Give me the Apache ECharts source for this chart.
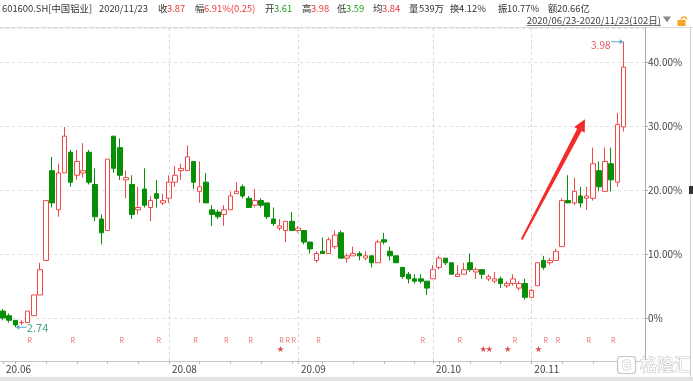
<!DOCTYPE html>
<html><head><meta charset="utf-8">
<script src="https://cdn.jsdelivr.net/npm/echarts@6/dist/echarts.min.js"></script>
<style>html,body{margin:0;padding:0;background:#fff;overflow:hidden}#c{width:693px;height:381px}</style>
</head><body><div id="c"></div>
<script>
// ---------------- DATA ----------------
const dates = [
'2020-06-23','2020-06-24','2020-06-29','2020-06-30',
'2020-07-01','2020-07-02','2020-07-03','2020-07-06','2020-07-07','2020-07-08','2020-07-09','2020-07-10','2020-07-13','2020-07-14','2020-07-15','2020-07-16','2020-07-17','2020-07-20','2020-07-21','2020-07-22','2020-07-23','2020-07-24','2020-07-27','2020-07-28','2020-07-29','2020-07-30','2020-07-31',
'2020-08-03','2020-08-04','2020-08-05','2020-08-06','2020-08-07','2020-08-10','2020-08-11','2020-08-12','2020-08-13','2020-08-14','2020-08-17','2020-08-18','2020-08-19','2020-08-20','2020-08-21','2020-08-24','2020-08-25','2020-08-26','2020-08-27','2020-08-28','2020-08-31',
'2020-09-01','2020-09-02','2020-09-03','2020-09-04','2020-09-07','2020-09-08','2020-09-09','2020-09-10','2020-09-11','2020-09-14','2020-09-15','2020-09-16','2020-09-17','2020-09-18','2020-09-21','2020-09-22','2020-09-23','2020-09-24','2020-09-25','2020-09-28','2020-09-29','2020-09-30',
'2020-10-09','2020-10-12','2020-10-13','2020-10-14','2020-10-15','2020-10-16','2020-10-19','2020-10-20','2020-10-21','2020-10-22','2020-10-23','2020-10-26','2020-10-27','2020-10-28','2020-10-29','2020-10-30',
'2020-11-02','2020-11-03','2020-11-04','2020-11-05','2020-11-06','2020-11-09','2020-11-10','2020-11-11','2020-11-12','2020-11-13','2020-11-16','2020-11-17','2020-11-18','2020-11-19','2020-11-20','2020-11-23'
];
const openP = [2.81,2.79,2.77,2.76,2.76,2.79,2.88,3.03,3.42,3.25,3.41,3.50,3.40,3.41,3.50,3.36,3.21,3.16,3.57,3.52,
3.38,3.36,3.25,3.34,3.26,3.32,3.28,3.30,3.37,3.42,3.42,3.46,3.33,3.37,3.25,3.24,3.23,3.25,3.32,3.35,
3.30,3.27,3.29,3.28,3.21,3.17,3.16,3.20,3.16,3.16,3.11,3.03,3.07,3.06,3.09,3.15,3.04,3.05,3.06,3.04,
3.05,3.02,3.12,3.07,3.05,3.00,2.97,2.95,2.95,2.94,2.95,3.00,3.04,3.02,2.96,2.97,3.02,2.98,2.99,2.95,
2.94,2.95,2.92,2.93,2.91,2.93,2.87,2.92,3.03,3.02,3.03,3.09,3.29,3.28,3.31,3.30,3.30,3.42,3.33,3.45,
3.37,3.61];
const closeP = [2.78,2.77,2.75,2.76,2.81,2.88,2.99,3.29,3.28,3.41,3.57,3.37,3.46,3.42,3.37,3.22,3.15,3.47,3.43,3.40,
3.39,3.23,3.26,3.27,3.29,3.30,3.29,3.37,3.40,3.43,3.48,3.37,3.35,3.28,3.23,3.22,3.25,3.31,3.33,3.31,
3.26,3.29,3.27,3.22,3.19,3.18,3.20,3.16,3.17,3.11,3.08,3.06,3.06,3.12,3.14,3.04,3.05,3.06,3.05,3.05,
3.02,3.11,3.11,3.05,3.02,2.96,2.95,2.94,2.94,2.91,2.99,3.04,3.02,2.97,2.97,2.99,2.99,2.99,2.97,2.96,
2.95,2.93,2.93,2.95,2.93,2.87,2.90,3.02,3.00,3.03,3.07,3.29,3.28,3.33,3.28,3.31,3.45,3.35,3.46,3.38,
3.62,3.87];
const lowP = [2.77,2.76,2.74,2.75,2.76,2.79,2.88,3.03,3.26,3.22,3.41,3.35,3.38,3.39,3.36,3.20,3.10,3.16,3.41,3.38,
3.30,3.21,3.23,3.26,3.20,3.26,3.27,3.28,3.35,3.38,3.42,3.34,3.28,3.28,3.18,3.21,3.18,3.25,3.32,3.30,
3.26,3.26,3.26,3.21,3.18,3.16,3.11,3.16,3.15,3.10,3.06,3.02,3.06,3.06,3.08,3.04,3.02,3.05,3.03,3.03,
3.00,3.02,3.10,3.03,3.02,2.95,2.93,2.93,2.93,2.88,2.95,2.99,3.01,2.97,2.96,2.97,2.98,2.95,2.95,2.94,
2.93,2.91,2.91,2.92,2.90,2.86,2.87,2.92,2.99,3.01,3.03,3.09,3.28,3.27,3.26,3.25,3.29,3.33,3.33,3.33,
3.35,3.59];
const highP = [2.82,2.80,2.77,2.77,2.81,2.88,3.02,3.29,3.48,3.45,3.61,3.51,3.51,3.54,3.51,3.43,3.23,3.47,3.57,3.56,
3.42,3.40,3.35,3.43,3.31,3.38,3.32,3.40,3.44,3.45,3.53,3.46,3.46,3.41,3.27,3.25,3.27,3.33,3.37,3.36,
3.31,3.34,3.30,3.28,3.26,3.21,3.20,3.24,3.18,3.16,3.11,3.07,3.13,3.13,3.16,3.16,3.06,3.09,3.07,3.07,
3.05,3.12,3.15,3.09,3.05,3.00,2.98,2.97,2.97,2.94,3.01,3.05,3.04,3.02,3.01,3.02,3.06,3.00,2.99,2.97,
2.98,2.96,2.94,2.97,2.94,2.95,2.92,3.02,3.05,3.04,3.08,3.30,3.40,3.39,3.35,3.35,3.52,3.46,3.52,3.52,
3.67,3.98];
const basePrice = 2.78;           // 0% reference (close of first day)
const monthLabelDates = ['2020-06-23','2020-08-03','2020-09-01','2020-10-09','2020-11-02'];
const monthGridDates = ['2020-08-03','2020-09-01','2020-10-09','2020-11-02'];
const rDates = ['2020-07-01','2020-07-10','2020-07-22','2020-07-30','2020-08-07','2020-08-14','2020-08-20','2020-08-27','2020-08-28','2020-08-31','2020-09-04','2020-09-29','2020-10-15','2020-10-28','2020-11-04','2020-11-06','2020-11-13','2020-11-19'];
const starDates = ['2020-08-27','2020-10-21','2020-10-22','2020-10-27','2020-11-03'];
const headerItems = [
  ['601600.SH[中国铝业]','n'],['2020/11/23','n'],
  ['收','n'],['3.87','u'],['幅','n'],['6.91%(0.25)','u'],['开','n'],['3.61','d'],
  ['高','n'],['3.98','u'],['低','n'],['3.59','d'],['均','n'],['3.84','u'],
  ['量','n'],['539万','n'],['换','n'],['4.12%','n'],['振','n'],['10.77%','n'],['额','n'],['20.66亿','n']
];
const rangeText = '2020/06/23-2020/11/23(102日)';
const watermarkText = '格隆汇';

// ---------------- LAYOUT / STYLE ----------------
const FONT = "'Noto Sans CJK SC','Noto Sans',sans-serif";
const UP = '#f24848', DOWN = '#078f07';
const headerX = [2,99,158,167,195,204,265,274,302,311,337,346,373,382,409,419,450,459,498,507,548,557];
const headerColor = {n:'#333', u:'#e83838', d:'#1f9a1f'};

const pct = p => (p / basePrice - 1) * 100;
const candleData = dates.map((d, i) => [pct(openP[i]), pct(closeP[i]), pct(lowP[i]), pct(highP[i])]);
const isMonday = d => !!d && new Date(d + 'T00:00:00Z').getUTCDay() === 1;

const ctx = document.createElement('canvas').getContext('2d');
ctx.font = '9.5px ' + FONT;
const rangeW = ctx.measureText(rangeText).width;
const rangeRight = 661;

const graphics = [];
headerItems.forEach((h, i) => {
  graphics.push({type:'text', x: headerX[i], y: 8, silent:true,
    style:{text:h[0], fill: headerColor[h[1]], font:'9.4px ' + FONT, textVerticalAlign:'middle', verticalAlign:'middle'}});
});
graphics.push({type:'line', silent:true, shape:{x1:0,y1:27.5,x2:693,y2:27.5}, style:{stroke:'#dcdcdc', lineWidth:1}});
graphics.push({type:'text', x: rangeRight - rangeW, y: 20, silent:true,
  style:{text:rangeText, fill:'#444', font:'9.5px ' + FONT, textVerticalAlign:'middle', verticalAlign:'middle'}});
graphics.push({type:'line', silent:true, shape:{x1:rangeRight - rangeW, y1:25.5, x2:rangeRight, y2:25.5}, style:{stroke:'#555', lineWidth:0.8}});
graphics.push({type:'polygon', silent:true, shape:{points:[[663,16.5],[671,16.5],[667,22.5]]}, style:{fill:'#8a8a8a'}});
graphics.push({type:'rect', silent:true, z:50, shape:{x:677.5,y:20,width:8,height:6}, style:{fill:'#f5a623'}});
graphics.push({type:'arc', silent:true, z:50, shape:{cx:684,cy:19.5,r:2.6,startAngle:Math.PI,endAngle:2*Math.PI,clockwise:true}, style:{stroke:'#f5a623', lineWidth:1.4, fill:'none'}});
// right frame & bottom bar
graphics.push({type:'line', silent:true, shape:{x1:690.5,y1:28,x2:690.5,y2:377}, style:{stroke:'#cfcfcf', lineWidth:1}});
graphics.push({type:'rect', silent:true, shape:{x:689,y:186,width:4,height:8}, style:{fill:'#333'}});
graphics.push({type:'rect', silent:true, shape:{x:0,y:377,width:693,height:4}, style:{fill:'#e3e3e3'}});
// red annotation arrow
graphics.push({type:'polygon', silent:true, z:100,
  shape:{points:[[520.9,239.1],[577.2,128.7],[574.1,127.1],[585,119.3],[584.7,132.7],[581.6,131.1],[522.5,239.9]]},
  style:{fill:'#f42a2a'}});
// watermark
graphics.push({type:'rect', silent:true, z:90, shape:{x:617.5,y:356.5,width:18,height:17,r:3}, style:{fill:'#fff', stroke:'#c4c4c4', lineWidth:1.2}});
graphics.push({type:'text', silent:true, z:91, x:626.5, y:365, style:{text:'G', fill:'#fff', stroke:'#c4c4c4', lineWidth:1, font:'bold 13px ' + FONT, textAlign:'center', align:'center', textVerticalAlign:'middle', verticalAlign:'middle'}});
graphics.push({type:'text', silent:true, z:91, x:640, y:365, style:{text:watermarkText, fill:'#fff', stroke:'#c4c4c4', lineWidth:1, font:'17px ' + FONT, textVerticalAlign:'middle', verticalAlign:'middle'}});

const arrowR = 'path://M0,4.4 L15,4.4 L15,1.5 L22,5 L15,8.5 L15,5.6 L0,5.6 Z';
const arrowL = 'path://M22,4.4 L7,4.4 L7,1.5 L0,5 L7,8.5 L7,5.6 L22,5.6 Z';
const toPrice = v => (basePrice * (1 + v / 100)).toFixed(2);

const option = {
  animation:false,
  textStyle:{fontFamily:FONT},
  grid:[
    {left:0, right:48, top:28, bottom:20},
    {left:0, right:48, top:336, height:16}
  ],
  xAxis:[
    {type:'category', gridIndex:0, data:dates, max:104, boundaryGap:true,
      axisLine:{show:true, onZero:false, lineStyle:{color:'#c6c6c6'}},
      axisTick:{show:true, alignWithLabel:true, length:3, lineStyle:{color:'#b5b5b5'},
        interval:(i, v) => i === 0 || isMonday(v) || monthLabelDates.includes(v)},
      axisLabel:{interval:(i, v) => monthLabelDates.includes(v), formatter:v => '20.' + v.slice(5,7),
        align:'left', margin:3, color:'#444', fontSize:10, padding:[0,0,0,3]},
      splitLine:{show:false}},
    {type:'category', gridIndex:1, data:dates, max:104, show:false}
  ],
  yAxis:[
    {type:'value', gridIndex:0, position:'right', min:-6.71875, max:45.3125, minInterval:10, maxInterval:10,
      axisLine:{show:true, lineStyle:{color:'#a8a8a8'}},
      axisTick:{show:true, length:3, lineStyle:{color:'#a8a8a8'}},
      axisLabel:{showMinLabel:false, showMaxLabel:false, color:'#444', fontSize:10, margin:3,
        formatter:v => Math.abs(v) < 1e-9 ? '0%' : v.toFixed(2) + '%'},
      splitLine:{show:true, lineStyle:{type:[3,3], color:'#dedede'}}},
    {type:'category', gridIndex:1, data:['*','R'], show:false}
  ],
  series:[
    {type:'candlestick', xAxisIndex:0, yAxisIndex:0, data:candleData, barWidth:5,
      itemStyle:{color:'#fff', color0:DOWN, borderColor:UP, borderColor0:DOWN, borderColorDoji:UP, borderWidth:1},
      markPoint:{silent:true, animation:false,
        data:[
          {type:'max', valueDim:'highest', symbol:arrowR, symbolSize:[12,5], symbolOffset:[-6,0],
            itemStyle:{color:'#5aaed0'},
            label:{show:true, position:'left', distance:1, offset:[0,3], color:'#e05a5a', fontSize:10, formatter:p => toPrice(p.value)}},
          {type:'min', valueDim:'lowest', symbol:arrowL, symbolSize:[11,5], symbolOffset:[6,0],
            itemStyle:{color:'#5aaed0'},
            label:{show:true, position:'right', distance:0, offset:[0,1], color:'#44a57a', fontSize:11, formatter:p => toPrice(p.value)}}
        ]},
      markLine:{silent:true, symbol:'none', animation:false, label:{show:false},
        lineStyle:{type:[3,3], color:'#d6d6d6', width:1},
        emphasis:{disabled:true},
        data: monthGridDates.map(d => ({xAxis:d}))}
    },
    {type:'scatter', xAxisIndex:1, yAxisIndex:1, silent:true, symbolSize:1,
      data: rDates.map(d => [d, 'R']), itemStyle:{color:'transparent'},
      label:{show:true, position:'inside', formatter:'R', color:'#ea4a55', fontSize:7, offset:[2,0]}},
    {type:'scatter', xAxisIndex:1, yAxisIndex:1, silent:true, symbolSize:1,
      data: starDates.map(d => [d, '*']), itemStyle:{color:'transparent'},
      label:{show:true, position:'inside', formatter:'★', color:'#d81e1e', fontSize:7, offset:[1,0]}}
  ],
  graphic: graphics
};
const chart = echarts.init(document.getElementById('c'));
chart.setOption(option);
</script></body></html>
